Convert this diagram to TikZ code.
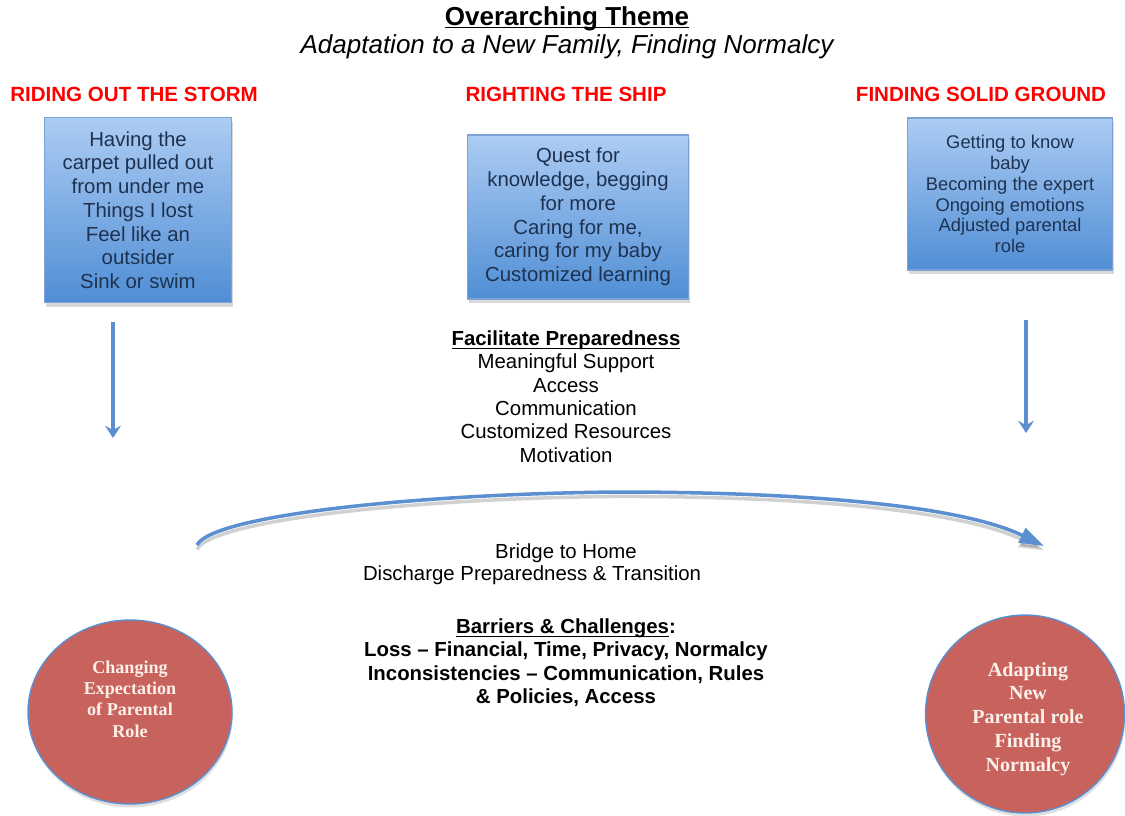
\documentclass[tikz,border=0pt]{standalone}
\usepackage{fontspec}
\setmainfont{Liberation Sans}
\newfontfamily\circfont{Liberation Serif}
\usetikzlibrary{shadows,arrows.meta,shapes.geometric}
\definecolor{boxtop}{RGB}{172,204,243}
\definecolor{boxbot}{RGB}{80,142,213}
\definecolor{boxline}{RGB}{125,163,214}
\definecolor{boxtext}{RGB}{30,50,80}
\definecolor{arrowblue}{RGB}{92,143,207}
\definecolor{circred}{RGB}{200,98,92}
\definecolor{circtext}{RGB}{252,240,234}
\newcommand{\undertext}[1]{\underline{\smash{#1}}}

\begin{document}
\begin{tikzpicture}[x=0.02cm, y=-0.02cm,
		stagebox/.style={draw=boxline, line width=0.8pt, top color=boxtop, bottom color=boxbot, text=boxtext, align=center, inner sep=0pt, drop shadow={opacity=0.3, shadow xshift=1pt, shadow yshift=-2.5pt}},
		stagehead/.style={text=red, font=\fontsize{11.7}{14}\selectfont\bfseries, anchor=base},
		outcome/.style={ellipse, draw=arrowblue, line width=0.8pt, fill=circred, drop shadow={opacity=0.25, shadow xshift=0.5pt, shadow yshift=-2pt}},
		outtext/.style={text=circtext, align=center, inner sep=0pt},
		midtext/.style={align=center, inner sep=0pt, font=\fontsize{11.6}{13.3}\selectfont},
		down/.style={-{Stealth[length=7pt, width=9pt, inset=2.5pt]}, arrowblue, line width=1.8pt},
		bridge/.style={-{Triangle[length=14pt, width=9pt]}, arrowblue, line width=2pt}
		]
		\useasboundingbox (0,0) rectangle (1125,815);
		
		% Theme
		\node[anchor=base, font=\fontsize{14.8}{17}\selectfont\bfseries] (theme) at (567,25) {\undertext{Overarching Theme}};
		\node[anchor=base, font=\fontsize{14.8}{17}\selectfont\itshape] (themeSub) at (567,53) {Adaptation to a New Family, Finding Normalcy};
		
		% Stages
		\node[stagehead] (headStorm) at (134,101) {RIDING OUT THE STORM};
		\node[stagehead] (headShip) at (566,101) {RIGHTING THE SHIP};
		\node[stagehead] (headGround) at (981,101) {FINDING SOLID GROUND};
		
		\node[stagebox, minimum width=3.74cm, minimum height=3.7cm, font=\fontsize{11.6}{13.5}\selectfont] (storm) at (138,210) {Having the\\carpet pulled out\\from under me\\Things I lost\\Feel like an\\outsider\\Sink or swim};
		\node[stagebox, minimum width=4.42cm, minimum height=3.28cm, font=\fontsize{11.6}{13.5}\selectfont] (ship) at (578,217) {Quest for\\knowledge, begging\\for more\\Caring for me,\\caring for my baby\\Customized learning};
		\node[stagebox, minimum width=4.1cm, minimum height=3.04cm, font=\fontsize{10.45}{11.9}\selectfont] (ground) at (1010,194) {Getting to know\\baby\\Becoming the expert\\Ongoing emotions\\Adjusted parental\\role};
		
		% Arrows down
		\coordinate (stormTop) at (113,322);
		\coordinate (stormEnd) at (113,438);
		\coordinate (groundTop) at (1026,320);
		\coordinate (groundEnd) at (1026,433);
		\draw[down] (stormTop) -- (stormEnd);
		\draw[down] (groundTop) -- (groundEnd);
		
		% Facilitate Preparedness
		\node[midtext] (prep) at (566,404) {\textbf{\undertext{Facilitate Preparedness}}\\Meaningful Support\\Access\\Communication\\Customized Resources\\Motivation};
		
		% Bridge to Home
		\coordinate (bridgeL) at (197,545);
		\coordinate (bridgeTop) at (618,492);
		\coordinate (bridgeR) at (1044,546);
		\draw[bridge, black, opacity=0.18, transform canvas={yshift=-2.5pt}] (bridgeL) .. controls (212,516) and (410,494) .. (bridgeTop) .. controls (800,492) and (960,505) .. (bridgeR);
		\draw[bridge] (bridgeL) .. controls (212,516) and (410,494) .. (bridgeTop) .. controls (800,492) and (960,505) .. (bridgeR);
		\node[midtext] (bridgeText) at (566,553) {Bridge to Home};
		\node[midtext] (dischargeText) at (532,575) {Discharge Preparedness \& Transition};
		
		% Barriers
		\node[midtext, font=\fontsize{11.6}{13.3}\selectfont\bfseries] (barriers) at (566,665) {\undertext{Barriers \& Challenges}:\\Loss – Financial, Time, Privacy, Normalcy\\Inconsistencies – Communication, Rules\\\& Policies, Access};
		
		% Outcomes
		\node[outcome, minimum width=4.08cm, minimum height=3.68cm] (changing) at (130,712) {};
		\node[outcome, minimum width=3.98cm, minimum height=3.96cm] (adapting) at (1025,714) {};
		\node[outtext, font=\circfont\bfseries\fontsize{10.3}{12.2}\selectfont] (changingText) at (130,699) {Changing\\Expectation\\of Parental\\Role};
		\node[outtext, font=\circfont\bfseries\fontsize{11.4}{13.6}\selectfont] (adaptingText) at (1028,719) {Adapting\\New\\Parental role\\Finding\\Normalcy};
		
	\end{tikzpicture}
\end{document}
